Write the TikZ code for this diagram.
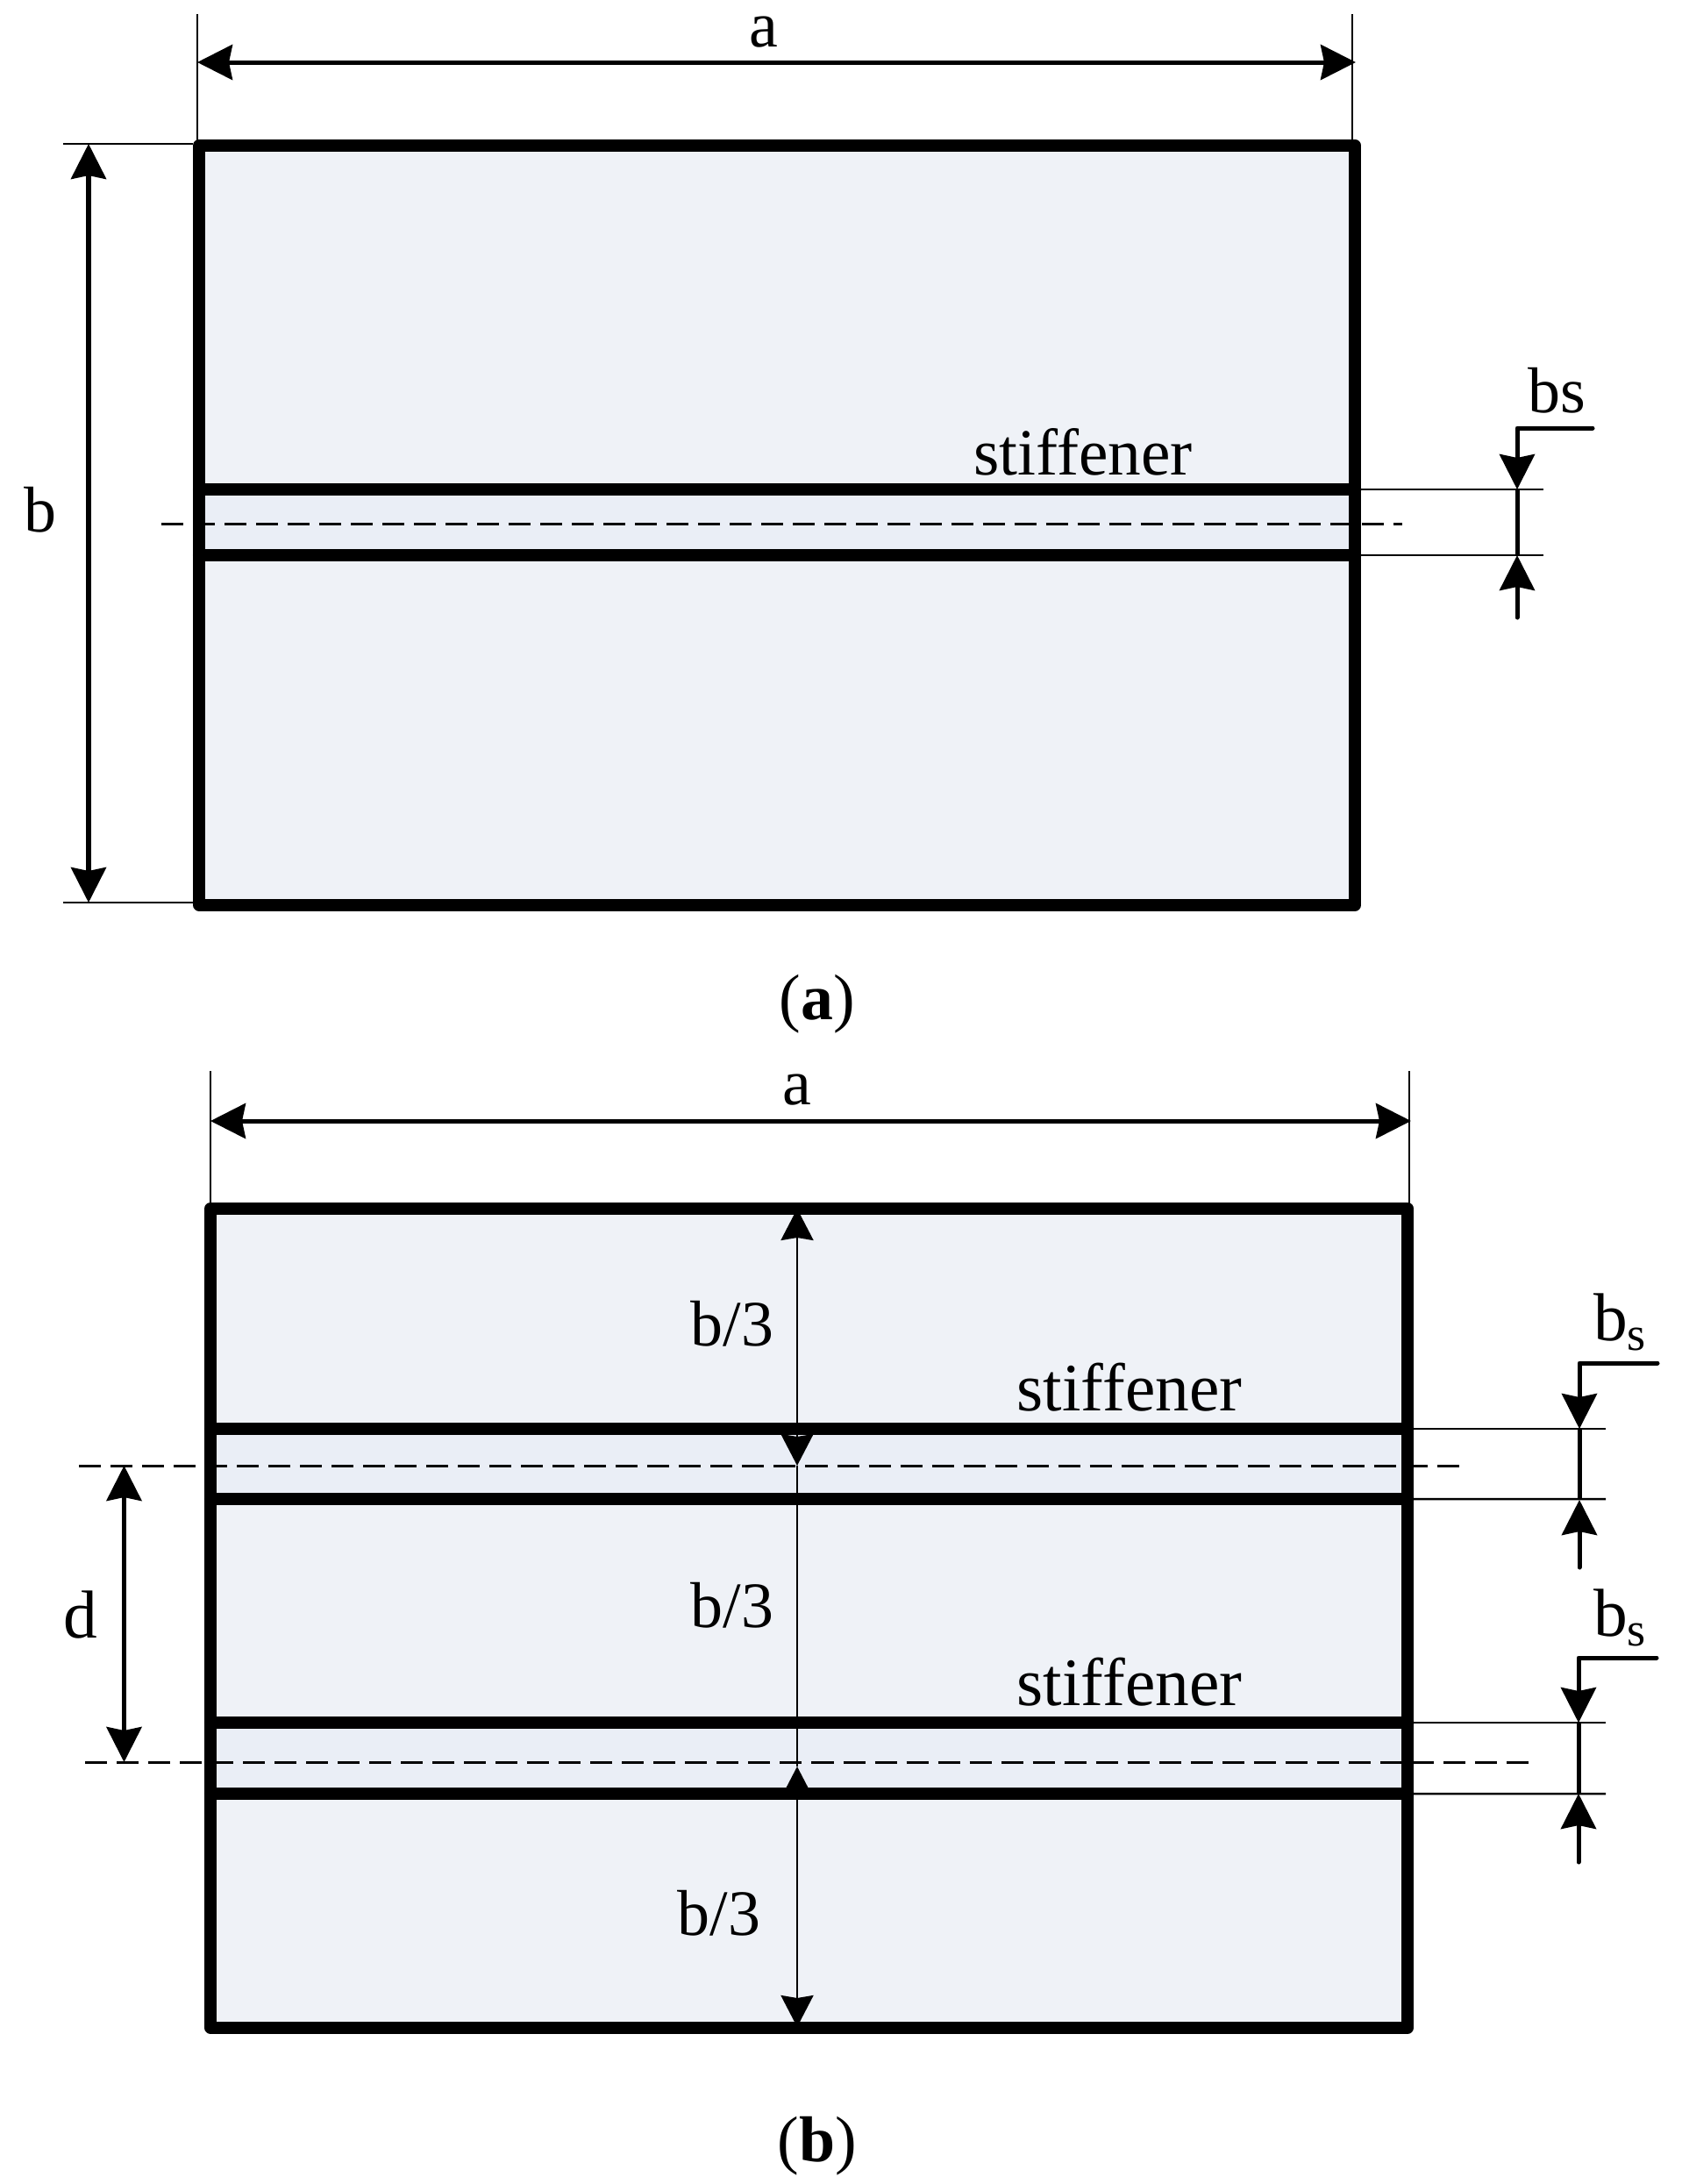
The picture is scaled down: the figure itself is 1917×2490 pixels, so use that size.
\documentclass[tikz,border=0pt]{standalone}
\usepackage{fontspec}
\setmainfont{Liberation Serif}
\usetikzlibrary{arrows.meta,positioning,calc}
\definecolor{platefill}{RGB}{239,242,247}
\definecolor{stripfill}{RGB}{234,238,246}

\begin{document}
\begin{tikzpicture}[x=0.01cm, y=-0.01cm]
    % Define styles
    \tikzstyle{plate} = [rectangle, fill=platefill, inner sep=0pt, outer sep=0pt, anchor=north west]
    \tikzstyle{strip} = [rectangle, fill=stripfill, inner sep=0pt, outer sep=0pt, anchor=north west]
    \tikzstyle{thickline} = [line width=0.14cm, line join=round, line cap=round]
    \tikzstyle{extline} = [line width=0.025cm]
    \tikzstyle{centerline} = [line width=0.03cm, dash pattern=on 0.25cm off 0.11cm]
    \tikzstyle{dimline} = [line width=0.05cm, {Stealth[length=0.4cm,width=0.4cm,inset=0.04cm]}-{Stealth[length=0.4cm,width=0.4cm,inset=0.04cm]}]
    \tikzstyle{sizeline} = [line width=0.05cm, line join=round, line cap=round, -{Stealth[length=0.4cm,width=0.4cm,inset=0.04cm]}]
    \tikzstyle{midline} = [line width=0.025cm, {Stealth[length=0.36cm,width=0.37cm,inset=0.03cm]}-{Stealth[length=0.36cm,width=0.37cm,inset=0.03cm]}]
    \tikzstyle{label} = [inner sep=0pt, font=\fontsize{21}{25}\selectfont]
    \tikzstyle{bigtext} = [inner sep=0pt, font=\fontsize{22}{26}\selectfont]

    \useasboundingbox (0,0) rectangle (1917,2490);

    % Panel (a)
    \node [plate, minimum width=13.175cm, minimum height=8.65cm] (platea) at (227,166) {};
    \node [strip, minimum width=13.175cm, minimum height=0.75cm] (stripa) at (227,558) {};
    \coordinate (a1west) at (184,597);
    \coordinate (a1east) at (1599,597);
    \draw [centerline] (a1west) -- (a1east);
    \draw [thickline] (platea.north west) rectangle (platea.south east);
    \draw [thickline] (stripa.north west) -- (stripa.north east);
    \draw [thickline] (stripa.south west) -- (stripa.south east);

    % Dimensions of panel (a)
    \coordinate (aleft) at (225,71);
    \coordinate (aright) at (1546,71);
    \draw [extline] (225,16) -- (225,160);
    \draw [extline] (1542,16) -- (1542,160);
    \draw [dimline] (aleft) -- (aright);
    \node [label] (alabel) at (871,37) {a};

    \coordinate (btop) at (101,164);
    \coordinate (bbottom) at (101,1029);
    \draw [extline] (72,164) -- (220,164);
    \draw [extline] (72,1029) -- (220,1029);
    \draw [dimline] (btop) -- (bbottom);
    \node [label] (blabel) at (46,581) {b};

    \coordinate (bsa1) at (1816,488);
    \coordinate (bsa2) at (1730,488);
    \coordinate (bsa3) at (1730,704);
    \draw [extline] (stripa.north east) -- ++(215,0) coordinate (exta1);
    \draw [extline] (stripa.south east) -- ++(215,0) coordinate (exta2);
    \draw [sizeline] (bsa1) -- (bsa2) -- (1730,558);
    \draw [sizeline] (bsa3) -- (1730,633);
    \draw [line width=0.05cm] (1730,558) -- (1730,633);
    \node [label] (bsalabel) at (1775,445) {bs};
    \node [inner sep=0pt, font=\fontsize{21.4}{25}\selectfont] (stiffa) at (1235,515) {stiffener};
    \node [label] (capa) at (932,1145) {(\textbf{a})};

    % Panel (b)
    \node [plate, minimum width=13.645cm, minimum height=9.33cm] (plateb) at (240,1378) {};
    \node [strip, minimum width=13.645cm, minimum height=0.8cm] (stripb) at (240,1629) {};
    \node [strip, minimum width=13.645cm, minimum height=0.81cm] (stripc) at (240,1964) {};
    \coordinate (b1west) at (90,1671);
    \coordinate (b1east) at (1665,1671);
    \coordinate (b2west) at (97,2009);
    \coordinate (b2east) at (1752,2009);
    \draw [centerline] (b1west) -- (b1east);
    \draw [centerline] (b2west) -- (b2east);

    % Thirds
    \coordinate (third0) at (909,1378);
    \coordinate (third1) at (909,1671);
    \coordinate (third2) at (909,2014);
    \coordinate (third3) at (909,2311);
    \draw [midline] (third0) -- (third1);
    \draw [extline] (third1) -- (third2);
    \draw [midline] (third2) -- (third3);

    \draw [thickline] (plateb.north west) rectangle (plateb.south east);
    \foreach \s in {stripb,stripc} {
        \draw [thickline] (\s.north west) -- (\s.north east);
        \draw [thickline] (\s.south west) -- (\s.south east);
    }

    % Dimensions of panel (b)
    \draw [extline] (240,1221) -- (240,1375);
    \draw [extline] (1607,1221) -- (1607,1375);
    \coordinate (cleft) at (240,1278);
    \coordinate (cright) at (1609,1278);
    \draw [dimline] (cleft) -- (cright);
    \node [label] (clabel) at (909,1243) {a};

    \coordinate (dtop) at (141.5,1671);
    \coordinate (dbottom) at (141.5,2009);
    \draw [dimline] (dtop) -- (dbottom);
    \node [bigtext] (dlabel) at (92,1841) {d};

    \draw [extline] (stripb.north east) -- (1831,1629);
    \draw [extline] (stripb.south east) -- (1831,1709);
    \draw [sizeline] (1890,1554) -- (1801,1554) -- (1801,1629);
    \draw [sizeline] (1801,1787) -- (1801,1710);
    \draw [line width=0.05cm] (1801,1629) -- (1801,1710);
    \node [bigtext] (bsblabel) at (1848,1507) {b\textsubscript{s}};

    \draw [extline] (stripc.north east) -- (1831,1964);
    \draw [extline] (stripc.south east) -- (1831,2045);
    \draw [sizeline] (1889,1890) -- (1800,1890) -- (1800,1964);
    \draw [sizeline] (1800,2123) -- (1800,2045);
    \draw [line width=0.05cm] (1800,1964) -- (1800,2045);
    \node [bigtext] (bsclabel) at (1848,1844) {b\textsubscript{s}};

    \node [label] (third1label) at (835,1509) {b/3};
    \node [label] (third2label) at (835,1830) {b/3};
    \node [label] (third3label) at (820,2181) {b/3};
    \node [bigtext] (stiffb) at (1288,1582) {stiffener};
    \node [bigtext] (stiffc) at (1288,1918) {stiffener};
    \node [label] (capb) at (932,2447) {(\textbf{b})};
\end{tikzpicture}
\end{document}
